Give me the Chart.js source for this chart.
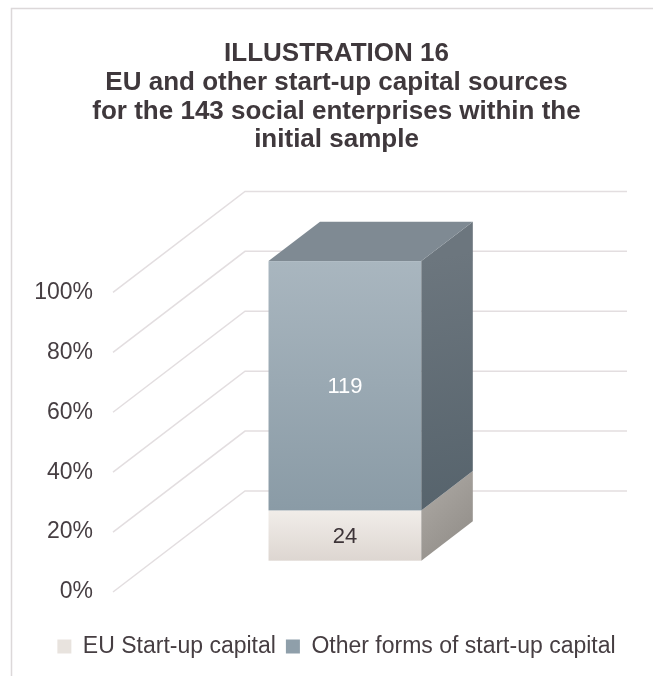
<!DOCTYPE html>
<html>
<head>
<meta charset="utf-8">
<script src="https://cdn.jsdelivr.net/npm/chart.js@4.4.1/dist/chart.umd.min.js"></script>
<style>
  html, body { margin: 0; padding: 0; background: #fff; }
  #wrap { width: 653px; height: 676px; }
</style>
</head>
<body>
<div id="wrap"><canvas id="capitalChart" width="653" height="676"></canvas></div>
<script>
const categories = [""];
const seriesNames = ["EU Start-up capital", "Other forms of start-up capital"];
const euCounts = [24];
const otherCounts = [119];
const yTicks = [0, 20, 40, 60, 80, 100];
const titleLines = [
  "ILLUSTRATION 16",
  "EU and other start-up capital sources",
  "for the 143 social enterprises within the",
  "initial sample",
];

// counts -> share of the total (100% stacked)
const totals = categories.map((_, i) => euCounts[i] + otherCounts[i]);
const euPct = euCounts.map((v, i) => (v / totals[i]) * 100);
const otherPct = otherCounts.map((v, i) => (v / totals[i]) * 100);

const textColor = "#463e42";
const depthX = 132; // floor depth of the 3d box
const depthY = -101;
const barFront = 0.31; // where the bar sits inside the depth
const barBack = 0.7;

const faceStyles = [
  { front: ["#f1ede9", "#ddd6d1"], side: ["#a6a29d", "#8d8984"], top: "#d6d0cb", label: "#3d3438" },
  { front: ["#a9b6bf", "#8a9ba6"], side: ["#6c767e", "#56636c"], top: "#7f8a93", label: "#ffffff" },
];

const frame3d = {
  id: "frame3d",
  beforeDraw(chart) {
    const ctx = chart.ctx;
    ctx.save();
    ctx.fillStyle = "#fff";
    ctx.fillRect(0, 0, chart.width, chart.height);
    ctx.strokeStyle = "#dcd8d9";
    ctx.lineWidth = 1.5;
    ctx.beginPath();
    ctx.moveTo(11.5, chart.height + 5);
    ctx.lineTo(11.5, 8.5);
    ctx.lineTo(chart.width + 5, 8.5);
    ctx.stroke();
    ctx.restore();
  },
  beforeDatasetsDraw(chart) {
    const { ctx, chartArea } = chart;
    const yScale = chart.scales.y;
    ctx.save();

    // perspective gridlines: floor diagonal then back wall
    ctx.strokeStyle = "#e3dee0";
    ctx.lineWidth = 1.5;
    yTicks.forEach((t) => {
      const py = yScale.getPixelForValue(t);
      ctx.beginPath();
      ctx.moveTo(chartArea.left, py);
      ctx.lineTo(chartArea.left + depthX, py + depthY);
      ctx.lineTo(chartArea.right + depthX, py + depthY);
      ctx.stroke();
    });

    const fdx = depthX * barFront, fdy = depthY * barFront;
    const sdx = depthX * (barBack - barFront), sdy = depthY * (barBack - barFront);
    const counts = [euCounts, otherCounts];

    chart.data.datasets.forEach((ds, di) => {
      const meta = chart.getDatasetMeta(di);
      const st = faceStyles[di];
      meta.data.forEach((el, i) => {
        const x0 = el.x - el.width / 2 + fdx;
        const x1 = el.x + el.width / 2 + fdx;
        const yt = el.y + fdy;
        const yb = el.base + fdy;

        // front face
        let g = ctx.createLinearGradient(0, yt, 0, yb);
        g.addColorStop(0, st.front[0]);
        g.addColorStop(1, st.front[1]);
        ctx.fillStyle = g;
        ctx.fillRect(x0, yt, x1 - x0, yb - yt);

        // right side
        g = ctx.createLinearGradient(x1, yt, x1 + sdx, yb);
        g.addColorStop(0, st.side[0]);
        g.addColorStop(1, st.side[1]);
        ctx.fillStyle = g;
        ctx.beginPath();
        ctx.moveTo(x1, yt);
        ctx.lineTo(x1 + sdx, yt + sdy);
        ctx.lineTo(x1 + sdx, yb + sdy);
        ctx.lineTo(x1, yb);
        ctx.closePath();
        ctx.fill();

        // top face only on the last stacked segment
        if (di === chart.data.datasets.length - 1) {
          ctx.fillStyle = st.top;
          ctx.beginPath();
          ctx.moveTo(x0, yt);
          ctx.lineTo(x0 + sdx, yt + sdy);
          ctx.lineTo(x1 + sdx, yt + sdy);
          ctx.lineTo(x1, yt);
          ctx.closePath();
          ctx.fill();
        }

        // value label
        ctx.fillStyle = st.label;
        ctx.font = "22px 'Liberation Sans', Arial, sans-serif";
        ctx.textAlign = "center";
        ctx.textBaseline = "middle";
        ctx.fillText(String(counts[di][i]), (x0 + x1) / 2, (yt + yb) / 2 + 1);
      });
    });

    ctx.restore();
    return false;
  },
};

const ctx = document.getElementById("capitalChart").getContext("2d");

const capitalChart = new Chart(ctx, {
  type: "bar",
  data: {
    labels: categories,
    datasets: [
      {
        label: seriesNames[0],
        data: euPct,
        backgroundColor: "#e8e3de",
      },
      {
        label: seriesNames[1],
        data: otherPct,
        backgroundColor: "#8f9faa",
      },
    ],
  },
  options: {
    responsive: false,
    animation: false,
    barPercentage: 0.4,
    categoryPercentage: 1,
    layout: {
      padding: { left: 20, right: 0, top: 0, bottom: 8 },
    },
    scales: {
      x: {
        stacked: true,
        grid: { display: false },
        border: { display: false },
        ticks: { display: false },
        afterFit: (s) => { s.height = 33; },
      },
      y: {
        stacked: true,
        min: 0,
        max: 100,
        grid: { display: false, drawTicks: false },
        border: { display: false },
        ticks: {
          stepSize: 20,
          padding: 20,
          color: textColor,
          font: { family: "'Liberation Sans', Arial, sans-serif", size: 23 },
          callback: (v) => v + "%",
        },
        afterFit: (s) => { s.width = 93; },
      },
      yRight: {
        position: "right",
        grid: { display: false },
        border: { display: false },
        ticks: { display: false },
        afterFit: (s) => { s.width = 158; },
      },
    },
    plugins: {
      title: {
        display: true,
        text: titleLines,
        color: "#3f383c",
        font: { family: "'Liberation Sans', Arial, sans-serif", size: 26, weight: "bold", lineHeight: 1.1 },
        padding: { top: 40, bottom: 138 },
      },
      legend: {
        position: "bottom",
        labels: {
          boxWidth: 14,
          boxHeight: 14,
          padding: 10,
          color: textColor,
          font: { family: "'Liberation Sans', Arial, sans-serif", size: 23 },
        },
      },
      tooltip: { enabled: false },
    },
  },
  plugins: [frame3d],
});
</script>
</body>
</html>
